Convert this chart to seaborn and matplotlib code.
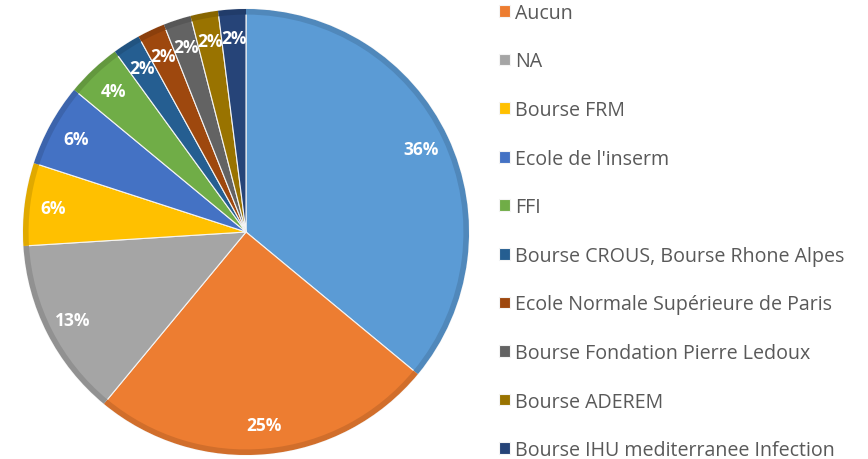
import matplotlib.pyplot as plt
from matplotlib.patches import Wedge
import seaborn as sns
import numpy as np

# Slices clockwise from 12 o'clock
categories = ["Autre", "Aucun", "NA", "Bourse FRM", "Ecole de l'inserm", "FFI",
              "Bourse CROUS, Bourse Rhone Alpes", "Ecole Normale Supérieure de Paris",
              "Bourse Fondation Pierre Ledoux", "Bourse ADEREM",
              "Bourse IHU mediterranee Infection"]
percents = [36, 25, 13, 6, 6, 4, 2, 2, 2, 2, 2]
slice_colors = ["#5B9BD5", "#ED7D31", "#A5A5A5", "#FFC000", "#4472C4", "#70AD47",
                "#255E91", "#9E480E", "#636363", "#997300", "#264478"]

sns.set_theme(style="white")
plt.rcParams['font.family'] = ['Open Sans', 'DejaVu Sans']
palette = sns.color_palette(slice_colors)

fig = plt.figure(figsize=(8.68, 4.6), dpi=100)
ax = fig.add_axes([(246 - 223) / 868, (227 - 223) / 460, 446 / 868, 446 / 460])

wedges, texts, autotexts = ax.pie(
    percents, colors=palette, startangle=90, counterclock=False,
    autopct=lambda p: f"{p:.0f}%", pctdistance=0.87,
    wedgeprops=dict(edgecolor="#f4f4f4", linewidth=0.8),
    textprops=dict(color="white", fontsize=12.5, fontweight="bold"))
ax.set_xlim(-1, 1)
ax.set_ylim(-1, 1)
ax.set_aspect("equal")

# darker rim on each slice for the bevelled look
for w, c in zip(wedges, palette):
    dark = tuple(np.array(c) * 0.88)
    ax.add_patch(Wedge(w.center, w.r, w.theta1, w.theta2,
                       width=0.025, facecolor=dark, edgecolor="none"))

# legend (first entry is cut off at the top in the original)
leg = fig.legend(wedges[1:], categories[1:], loc="upper left",
                 bbox_to_anchor=(489 / 868, 1 + 6 / 460), frameon=False,
                 fontsize=14.1, labelspacing=1.46, handlelength=0.55, handleheight=0.55,
                 handletextpad=0.3, borderpad=0)
for t in leg.get_texts():
    t.set_color("#595959")

fig.savefig("out.png", dpi=100)
